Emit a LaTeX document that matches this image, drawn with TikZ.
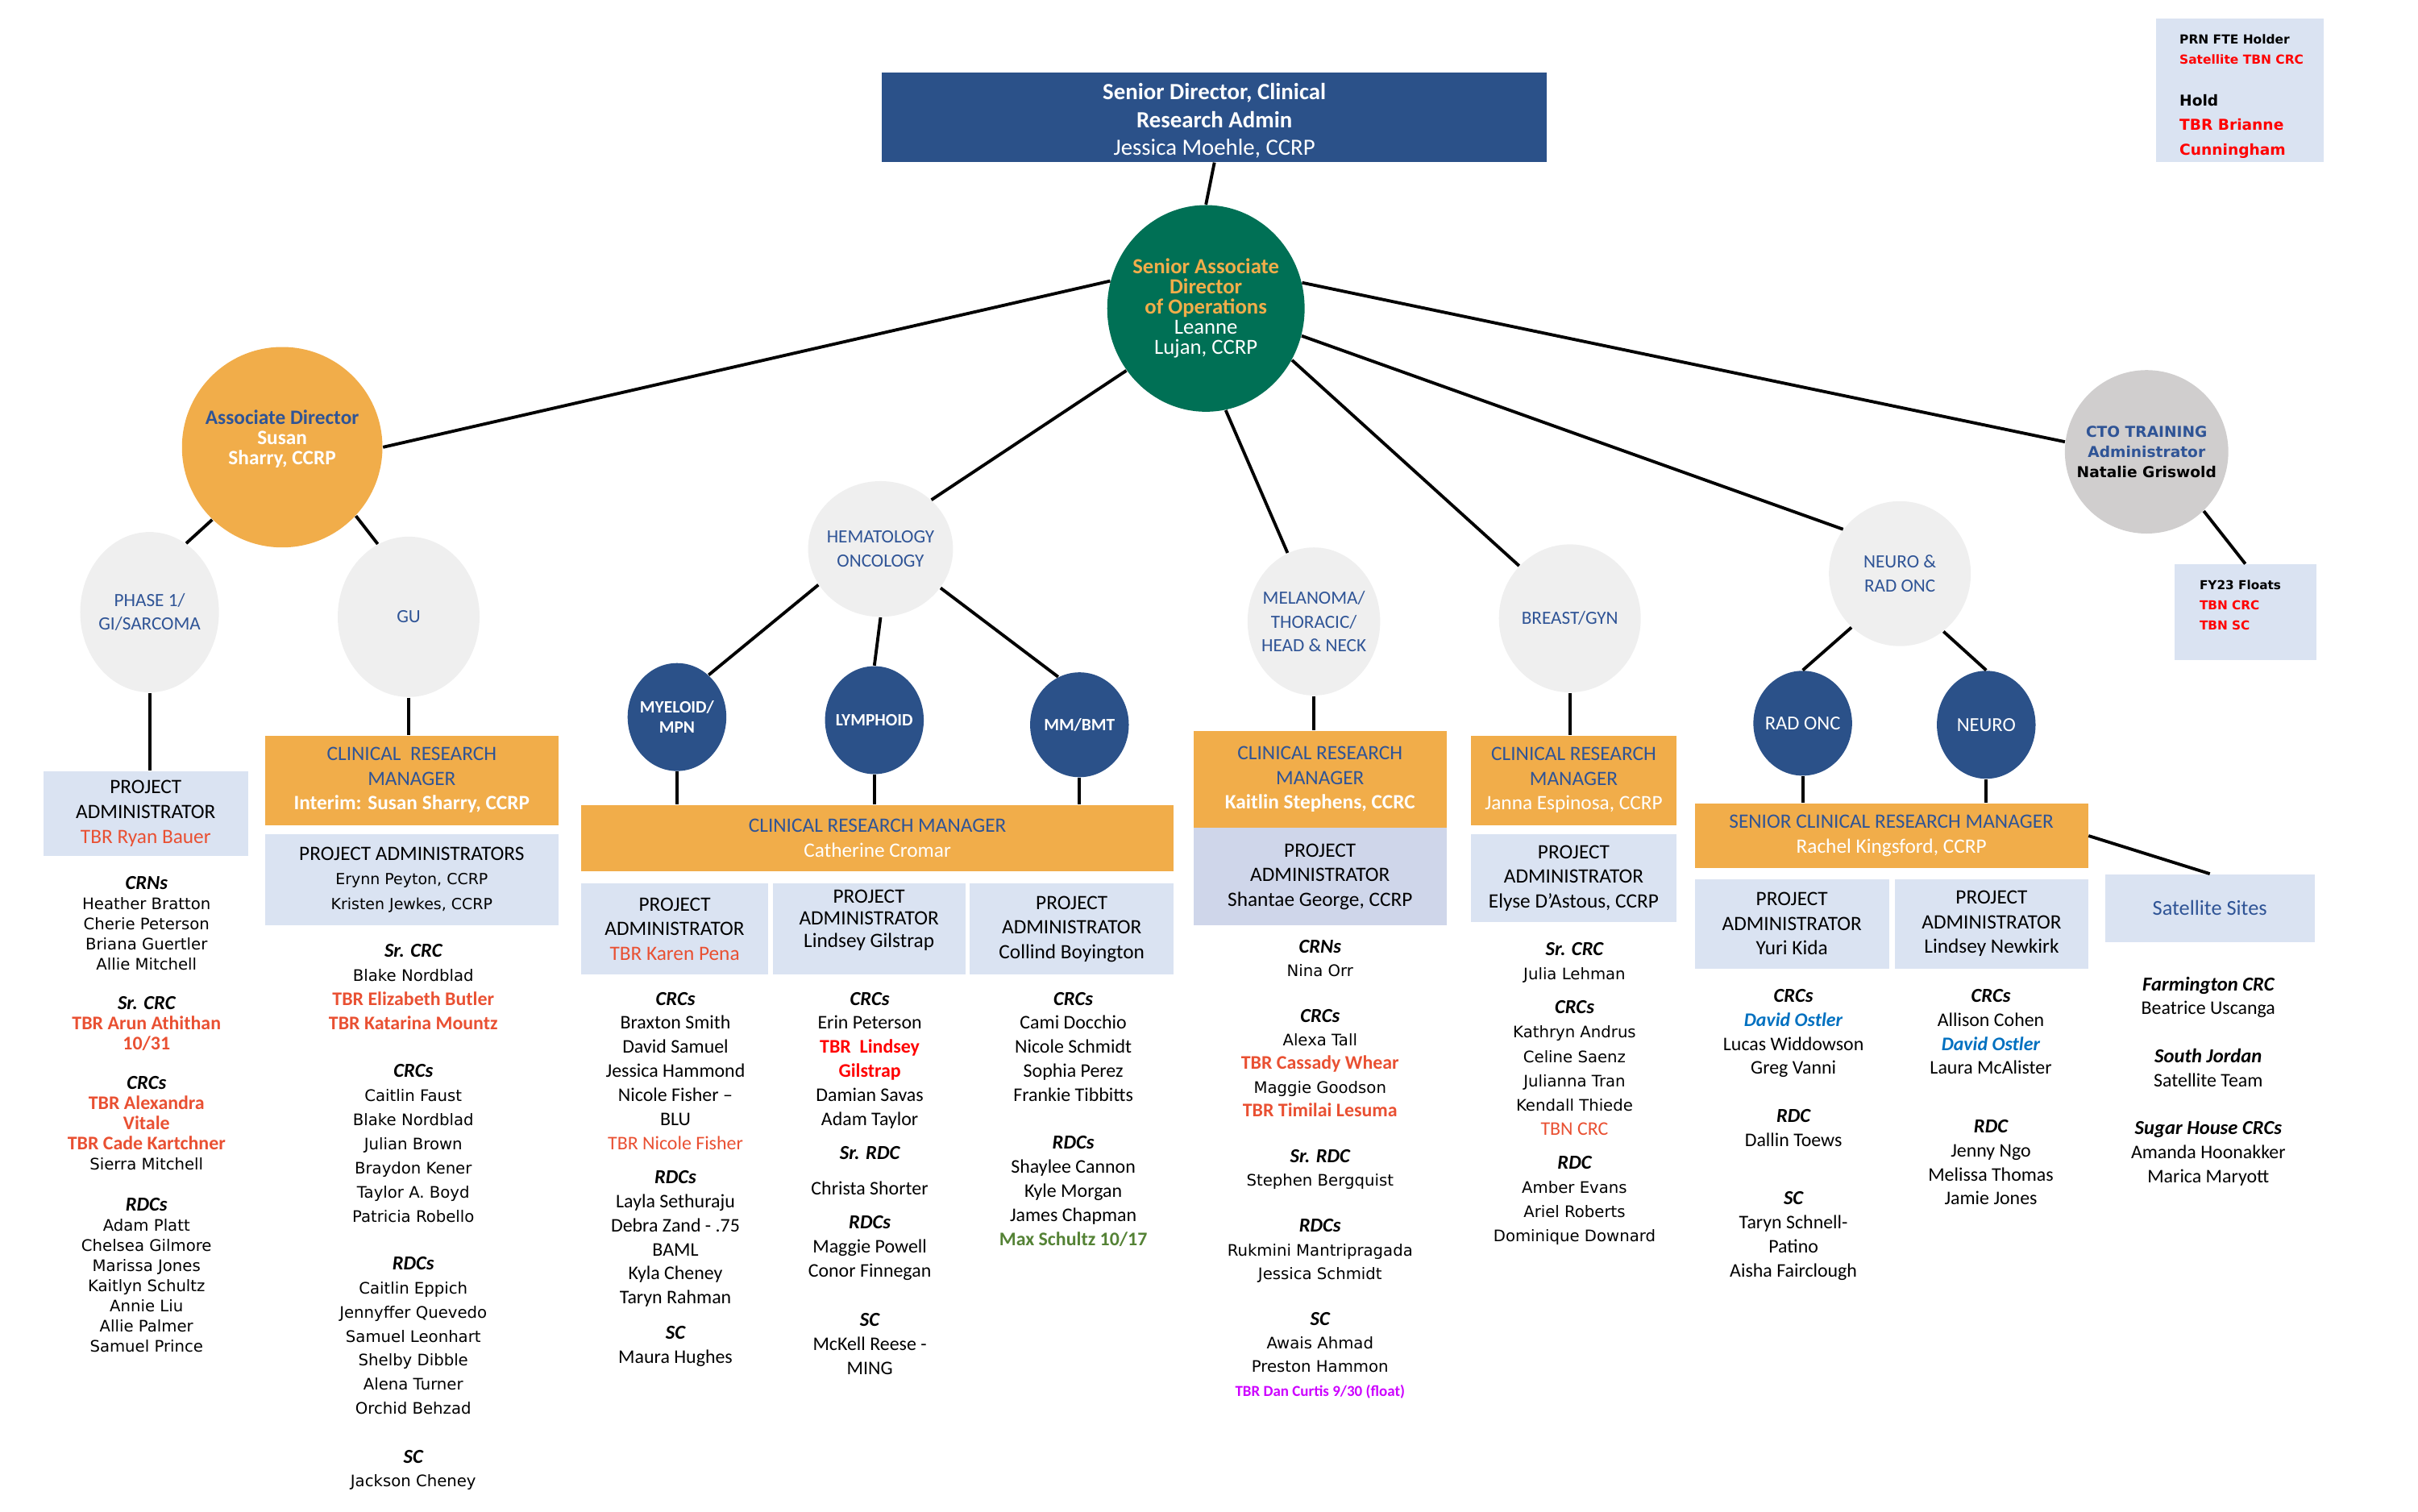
\documentclass[tikz,border=0pt]{standalone}
\usepackage{fontspec}
\setmainfont{Carlito}
\newfontfamily\vfont{DejaVu Sans}
\usetikzlibrary{shapes.geometric}

\definecolor{navy}{RGB}{43,81,137}
\definecolor{opsgreen}{RGB}{0,112,85}
\definecolor{mgrorange}{RGB}{241,173,74}
\definecolor{diseasegray}{RGB}{239,239,239}
\definecolor{paleblue}{RGB}{218,227,242}
\definecolor{lavender}{RGB}{207,214,234}
\definecolor{ctogray}{RGB}{208,206,206}
\definecolor{hdblue}{RGB}{47,84,150}
\definecolor{tbr}{RGB}{233,80,50}
\definecolor{tbrred}{RGB}{255,0,0}
\definecolor{hiregreen}{RGB}{84,130,53}
\definecolor{floatpink}{RGB}{204,0,255}
\definecolor{ostler}{RGB}{0,112,192}

\newcommand{\pxu}{0.019133cm}
\newcommand{\fsz}[2]{\fontsize{#1}{#2}\selectfont}
\newcommand{\rolehd}[1]{{\rmfamily\bfseries\itshape\fsz{7}{8}#1}}
\newcommand{\tbrb}[1]{{\rmfamily\bfseries\fsz{6.8}{8}\textcolor{tbr}{#1}}}
\newcommand{\sharedname}[1]{\textcolor{ostler}{\textbf{\textit{#1}}}}

\begin{document}
\begin{tikzpicture}[x=\pxu, y=-\pxu,
    wh/.style 2 args={minimum width=#1*\pxu, minimum height=#2*\pxu},
    link/.style={line width=1.1pt, black},
    disease/.style={ellipse, fill=diseasegray, inner sep=0pt},
    subteam/.style={ellipse, fill=navy, inner sep=0pt},
    navybox/.style={fill=navy, text=white, align=center, inner sep=0pt},
    mgrbox/.style={fill=mgrorange, text=hdblue, align=center, inner sep=0pt, font=\fsz{7.2}{8.7}},
    pabox/.style={fill=paleblue, align=center, inner sep=0pt, font=\fsz{7.2}{8.7}},
    graylbl/.style={align=center, text=hdblue, font=\fsz{6.6}{8.4}},
    navylbl/.style={align=center, text=white, font=\bfseries\fsz{6.1}{7.1}},
    crew/.style={anchor=north, align=center, inner sep=0pt},
    vcrew/.style={crew, font=\vfont\fsz{5.6}{8.5}},
    ccrew/.style={crew, font=\fsz{6.8}{8.5}}
  ]
  \useasboundingbox (0,0) rectangle (1568,980);

  % top of the chart
  \node[navybox, wh={431}{58},
    label={[align=center, text=white, font=\fsz{8.2}{9.8}, yshift=-0.045cm]center:{\textbf{Senior Director, Clinical}\\\textbf{Research Admin}\\Jessica Moehle, CCRP}}] (sendir) at (787.5,76) {};
  \node[ellipse, fill=opsgreen, inner sep=0pt, wh={128}{134},
    label={[align=center, text=white, font=\fsz{7.6}{7.1}]center:{\textcolor{mgrorange}{\textbf{Senior Associate}}\\\textcolor{mgrorange}{\textbf{Director}}\\\textcolor{mgrorange}{\textbf{of Operations}}\\Leanne\\Lujan, CCRP}}] (ops) at (782,200) {};

  % legend, top right
  \node[fill=paleblue, wh={109}{93}, inner sep=0pt] (legend) at (1452.5,58.5) {};
  \node[anchor=north west, align=left, inner sep=0pt, font=\vfont\bfseries\fsz{4.4}{7.1}] (legendtxt) at (1413,22)
    {PRN FTE Holder\\\textcolor{tbrred}{Satellite TBN CRC}\\[7.6pt]
     {\fsz{5.3}{8}Hold}\\[1.6pt]
     {\fsz{5.3}{8}\textcolor{tbrred}{TBR Brianne}}\\[1.6pt]
     {\fsz{5.3}{8}\textcolor{tbrred}{Cunningham}}};

  % directors and disease groups
  \node[ellipse, fill=mgrorange, inner sep=0pt, wh={130}{130},
    label={[align=center, text=white, font=\bfseries\fsz{7.2}{7.1}, yshift=0.1cm]center:{\textcolor{hdblue}{Associate Director}\\Susan\\Sharry, CCRP}}] (assoc) at (183,290) {};
  \node[ellipse, fill=ctogray, inner sep=0pt, wh={106}{106},
    label={[align=center, font=\vfont\bfseries\fsz{5.3}{7.1}]center:{\textcolor{hdblue}{CTO TRAINING}\\\textcolor{hdblue}{Administrator}\\Natalie Griswold}}] (cto) at (1392,293) {};

  \node[disease, wh={90}{104}, label={[graylbl]center:{PHASE 1/\\GI/SARCOMA}}] (phase1) at (97,397) {};
  \node[disease, wh={92}{104}, label={[graylbl]center:{GU}}] (gu) at (265,400) {};
  \node[disease, wh={94}{88}, label={[graylbl]center:{HEMATOLOGY\\ONCOLOGY}}] (heme) at (571,356) {};
  \node[disease, wh={86}{96}, label={[graylbl]center:{MELANOMA/\\THORACIC/\\HEAD \& NECK}}] (melan) at (852,403) {};
  \node[disease, wh={92}{96}, label={[graylbl]center:{BREAST/GYN}}] (breast) at (1018,401) {};
  \node[disease, wh={92}{94}, label={[graylbl]center:{NEURO \&\\RAD ONC}}] (neurorad) at (1232,372) {};

  \node[subteam, wh={64}{70}, label={[navylbl]center:{MYELOID/\\MPN}}] (myeloid) at (439,465) {};
  \node[subteam, wh={64}{70}, label={[navylbl]center:{LYMPHOID}}] (lymphoid) at (567,467) {};
  \node[subteam, wh={64}{68}, label={[navylbl]center:{MM/BMT}}] (mmbmt) at (700,470) {};
  \node[subteam, wh={64}{68}, label={[navylbl, font=\fsz{7}{8}]center:{RAD ONC}}] (radonc) at (1169,469) {};
  \node[subteam, wh={64}{70}, label={[navylbl, font=\fsz{7}{8}]center:{NEURO}}] (neuro) at (1288,470) {};

  % managers and project administrators
  \node[pabox, wh={133}{55}] (p1pa) at (94.5,527.5) {PROJECT\\ADMINISTRATOR\\\textcolor{tbr}{TBR Ryan Bauer}};
  \node[mgrbox, wh={190}{58}] (gucrm) at (267,506) {CLINICAL\ \ RESEARCH\\MANAGER\\\textcolor{white}{\textbf{Interim: Susan Sharry, CCRP}}};
  \node[pabox, wh={190}{59}] (gupa) at (267,570.5) {PROJECT ADMINISTRATORS\\{\vfont\fsz{5.4}{8}Erynn Peyton, CCRP}\\{\vfont\fsz{5.4}{8}Kristen Jewkes, CCRP}};

  \node[mgrbox, wh={384}{43}] (hcrm) at (569,543.5) {CLINICAL RESEARCH MANAGER\\\textcolor{white}{Catherine Cromar}};
  \node[pabox, wh={121}{59}] (hpa1) at (437.5,602.5) {PROJECT\\ADMINISTRATOR\\\textcolor{tbr}{TBR Karen Pena}};
  \node[pabox, wh={125}{59},
    label={[align=center, font=\fsz{7.2}{7.9}, yshift=0.11cm]center:{PROJECT\\ADMINISTRATOR\\Lindsey Gilstrap}}] (hpa2) at (563.5,602.5) {};
  \node[pabox, wh={132}{59}] (hpa3) at (695,602.5) {PROJECT\\ADMINISTRATOR\\Collind Boyington};

  \node[mgrbox, wh={164}{63}] (mcrm) at (856,505.5) {CLINICAL RESEARCH\\MANAGER\\\textcolor{white}{\textbf{Kaitlin Stephens, CCRC}}};
  \node[pabox, fill=lavender, wh={164}{63}] (mpa) at (856,568.5) {PROJECT\\ADMINISTRATOR\\Shantae George, CCRP};

  \node[mgrbox, wh={133}{58}] (bcrm) at (1020.5,506) {CLINICAL RESEARCH\\MANAGER\\\textcolor{white}{Janna Espinosa, CCRP}};
  \node[pabox, wh={133}{57}] (bpa) at (1020.5,569.5) {PROJECT\\ADMINISTRATOR\\Elyse D’Astous, CCRP};

  \node[mgrbox, wh={255}{42}] (ncrm) at (1226.5,542) {SENIOR CLINICAL RESEARCH MANAGER\\\textcolor{white}{Rachel Kingsford, CCRP}};
  \node[pabox, wh={126}{58}] (npa1) at (1162,599) {PROJECT\\ADMINISTRATOR\\Yuri Kida};
  \node[pabox, wh={125}{58}] (npa2) at (1291.5,599) {PROJECT\\ADMINISTRATOR\\Lindsey Newkirk};

  \node[pabox, wh={136}{44}, font=\fsz{7.5}{9}] (sat) at (1433,589) {\textcolor{hdblue}{Satellite Sites}};
  \node[fill=paleblue, wh={92}{62}, inner sep=0pt] (floats) at (1456,397) {};
  \node[anchor=north west, align=left, inner sep=0pt, font=\vfont\bfseries\fsz{4.35}{7.1}] (floatstxt) at (1426,376)
    {FY23 Floats\\\textcolor{tbrred}{TBN CRC}\\\textcolor{tbrred}{TBN SC}};

  % connectors
  \draw[link] (sendir.south) -- (ops.north);
  \draw[link] (ops.164) -- (assoc.east);
  \draw[link] (ops.218) -- (heme.44);
  \draw[link] (ops.-79) -- (melan.111);
  \draw[link] (ops.-31) -- (breast.134);
  \draw[link] (ops.-16) -- (neurorad.142);
  \draw[link] (ops.15) -- (cto.173);
  \draw[link] (cto.-46) -- (floats.north);
  \draw[link] (assoc.226) -- (phase1.62);
  \draw[link] (assoc.-43) -- (gu.113);
  \draw[link] (phase1.south) -- (phase1.south |- p1pa.north);
  \draw[link] (gu.south) -- (gu.south |- gucrm.north);
  \draw[link] (heme.210) -- (myeloid.53);
  \draw[link] (heme.south) -- (lymphoid.north);
  \draw[link] (heme.-33) -- (mmbmt.114);
  \foreach \c in {myeloid, lymphoid, mmbmt}
    \draw[link] (\c.south) -- (\c.south |- hcrm.north);
  \draw[link] (melan.south) -- (melan.south |- mcrm.north);
  \draw[link] (breast.south) -- (breast.south |- bcrm.north);
  \draw[link] (neurorad.228) -- (radonc.north);
  \draw[link] (neurorad.-53) -- (neuro.north);
  \foreach \c in {radonc, neuro}
    \draw[link] (\c.south) -- (\c.south |- ncrm.north);
  \draw[link] (ncrm.east) -- (sat.north);

  % staff lists
  \node[vcrew, font=\vfont\fsz{5.6}{7.08}] (p1list) at (95,568)
    {\rolehd{CRNs}\\Heather Bratton\\Cherie Peterson\\Briana Guertler\\Allie Mitchell\\[7pt]
     \rolehd{Sr. CRC}\\\tbrb{TBR Arun Athithan}\\\tbrb{10/31}\\[7pt]
     \rolehd{CRCs}\\\tbrb{TBR Alexandra}\\\tbrb{Vitale}\\\tbrb{TBR Cade Kartchner}\\Sierra Mitchell\\[7.6pt]
     \rolehd{RDCs}\\Adam Platt\\Chelsea Gilmore\\Marissa Jones\\Kaitlyn Schultz\\Annie Liu\\Allie Palmer\\Samuel Prince};

  \node[vcrew] (gulist) at (268,612)
    {\rolehd{Sr. CRC}\\Blake Nordblad\\\tbrb{TBR Elizabeth Butler}\\\tbrb{TBR Katarina Mountz}\\[8.4pt]
     \rolehd{CRCs}\\Caitlin Faust\\Blake Nordblad\\Julian Brown\\Braydon Kener\\Taylor A. Boyd\\Patricia Robello\\[8.4pt]
     \rolehd{RDCs}\\Caitlin Eppich\\Jennyffer Quevedo\\Samuel Leonhart\\Shelby Dibble\\Alena Turner\\Orchid Behzad\\[8.7pt]
     \rolehd{SC}\\Jackson Cheney};

  \node[ccrew] (hlist1) at (438,643)
    {\rolehd{CRCs}\\Braxton Smith\\David Samuel\\Jessica Hammond\\Nicole Fisher --\\BLU\\\textcolor{tbr}{TBR Nicole Fisher}\\[3.5pt]
     \rolehd{RDCs}\\Layla Sethuraju\\Debra Zand - .75\\BAML\\Kyla Cheney\\Taryn Rahman\\[4pt]
     \rolehd{SC}\\Maura Hughes};

  \node[ccrew] (hlist2) at (564,643)
    {\rolehd{CRCs}\\Erin Peterson\\\textcolor{tbrred}{\textbf{TBR\ \ Lindsey}}\\\textcolor{tbrred}{\textbf{Gilstrap}}\\Damian Savas\\Adam Taylor\\[3.5pt]
     \rolehd{Sr. RDC}\\[4pt]Christa Shorter\\[3.5pt]
     \rolehd{RDCs}\\Maggie Powell\\Conor Finnegan\\[8.9pt]
     \rolehd{SC}\\McKell Reese -\\MING};

  \node[ccrew] (hlist3) at (696,643)
    {\rolehd{CRCs}\\Cami Docchio\\Nicole Schmidt\\Sophia Perez\\Frankie Tibbitts\\[8.4pt]
     \rolehd{RDCs}\\Shaylee Cannon\\Kyle Morgan\\James Chapman\\\textcolor{hiregreen}{\textbf{Max Schultz 10/17}}};

  \node[vcrew, font=\vfont\fsz{5.6}{8.3}] (mlist) at (856,609)
    {\rolehd{CRNs}\\Nina Orr\\[8pt]
     \rolehd{CRCs}\\Alexa Tall\\\tbrb{TBR Cassady Whear}\\Maggie Goodson\\\tbrb{TBR Timilai Lesuma}\\[8pt]
     \rolehd{Sr. RDC}\\Stephen Bergquist\\[8pt]
     \rolehd{RDCs}\\Rukmini Mantripragada\\Jessica Schmidt\\[8pt]
     \rolehd{SC}\\Awais Ahmad\\Preston Hammon\\{\rmfamily\bfseries\fsz{5.4}{7}\textcolor{floatpink}{TBR Dan Curtis 9/30 (float)}}};

  \node[vcrew, font=\vfont\fsz{5.6}{8.55}] (blist) at (1021,611)
    {\rolehd{Sr. CRC}\\Julia Lehman\\[3.4pt]
     \rolehd{CRCs}\\Kathryn Andrus\\Celine Saenz\\Julianna Tran\\Kendall Thiede\\{\rmfamily\fsz{6.8}{8}\textcolor{tbr}{TBN CRC}}\\[3.4pt]
     \rolehd{RDC}\\Amber Evans\\Ariel Roberts\\Dominique Downard};

  \node[ccrew] (nlist1) at (1163,641)
    {\rolehd{CRCs}\\\sharedname{David Ostler}\\Lucas Widdowson\\Greg Vanni\\[8.4pt]
     \rolehd{RDC}\\Dallin Toews\\[12.1pt]
     \rolehd{SC}\\Taryn Schnell-\\Patino\\Aisha Fairclough};

  \node[ccrew] (nlist2) at (1291,641)
    {\rolehd{CRCs}\\Allison Cohen\\\sharedname{David Ostler}\\Laura McAlister\\[12.1pt]
     \rolehd{RDC}\\Jenny Ngo\\Melissa Thomas\\Jamie Jones};

  \node[ccrew] (satlist) at (1432,633)
    {\rolehd{Farmington CRC}\\Beatrice Uscanga\\[8.4pt]
     \rolehd{South Jordan}\\Satellite Team\\[8.4pt]
     \rolehd{Sugar House CRCs}\\Amanda Hoonakker\\Marica Maryott};
\end{tikzpicture}
\end{document}
